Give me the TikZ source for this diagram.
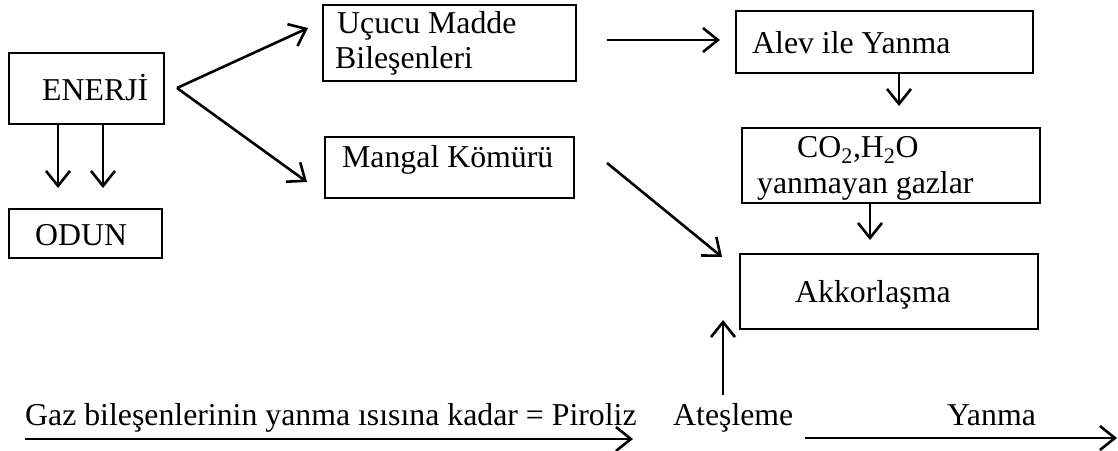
\documentclass[tikz,border=0pt]{standalone}
\usepackage{fontspec}
\setmainfont{Liberation Serif}
\usetikzlibrary{arrows.meta}
\begin{document}
\begin{tikzpicture}[x=1pt,y=-1pt,
  box/.style={draw,line width=2.7pt,rectangle,inner sep=0pt},
  lbl/.style={anchor=base west,inner sep=0pt,font=\fontsize{31.8}{36}\selectfont},
  arr/.style={line width=2.6pt,-{Straight Barb[length=15pt,width=24pt,line width=2.6pt]}}]
\useasboundingbox (0,0) rectangle (1118,450);

% boxes
\node[box,minimum width=155pt,minimum height=71pt] (enerji) at (86.5,88.5) {};
\node[box,minimum width=153pt,minimum height=49pt] (odun) at (85.5,233.5) {};
\node[box,minimum width=253pt,minimum height=76pt] (ucucu) at (449.5,43) {};
\node[box,minimum width=249pt,minimum height=61pt] (mangal) at (449.5,167.5) {};
\node[box,minimum width=297pt,minimum height=62pt] (alev) at (884.5,42) {};
\node[box,minimum width=298pt,minimum height=75pt] (gazlar) at (891,165.5) {};
\node[box,minimum width=298pt,minimum height=75pt] (akkor) at (889,291.5) {};

% texts
\node[lbl] (tEnerji) at (42,100) {ENERJİ};
\node[lbl] (tOdun) at (35,245) {ODUN};
\node[lbl] (tUcucu1) at (337,33) {Uçucu Madde};
\node[lbl] (tUcucu2) at (335,68) {Bileşenleri};
\node[lbl] (tMangal) at (342,167) {Mangal Kömürü};
\node[lbl] (tAlev) at (752,53) {Alev ile Yanma};
\node[lbl] (tGaz1) at (797,157) {CO\textsubscript{2},H\textsubscript{2}O};
\node[lbl] (tGaz2) at (757,193) {yanmayan gazlar};
\node[lbl] (tAkkor) at (795,302) {Akkorlaşma};
\node[lbl] (tPiroliz) at (25,425) {Gaz bileşenlerinin yanma ısısına kadar = Piroliz};
\node[lbl] (tAtes) at (673,425) {Ateşleme};
\node[lbl] (tYanma) at (947,425) {Yanma};

% connector end points
\coordinate (e1a) at (58,124);   \coordinate (e1b) at (58,188);
\coordinate (e2a) at (103,124);  \coordinate (e2b) at (103,188);
\coordinate (fork) at (177,88);
\coordinate (fu) at (308,28);    \coordinate (fl) at (307,182);
\coordinate (ua) at (607,40);    \coordinate (ub) at (720,40);
\coordinate (ma) at (607,163);   \coordinate (mb) at (722,257);
\coordinate (aa) at (899,73);    \coordinate (ab) at (899,106);
\coordinate (ga) at (870,203);   \coordinate (gb) at (870,240);
\coordinate (ia) at (723,395);   \coordinate (ib) at (723,320);
\coordinate (pa) at (25,439);    \coordinate (pb) at (633,439);
\coordinate (ya) at (805,438);   \coordinate (yb) at (1117,438);

% connectors
\draw[arr] (e1a) -- (e1b);
\draw[arr] (e2a) -- (e2b);
\draw[arr] (fork) -- (fu);
\draw[arr] (fork) -- (fl);
\draw[arr] (ua) -- (ub);
\draw[arr] (ma) -- (mb);
\draw[arr] (aa) -- (ab);
\draw[arr] (ga) -- (gb);
\draw[arr] (ia) -- (ib);
\draw[arr] (pa) -- (pb);
\draw[arr] (ya) -- (yb);
\end{tikzpicture}
\end{document}
